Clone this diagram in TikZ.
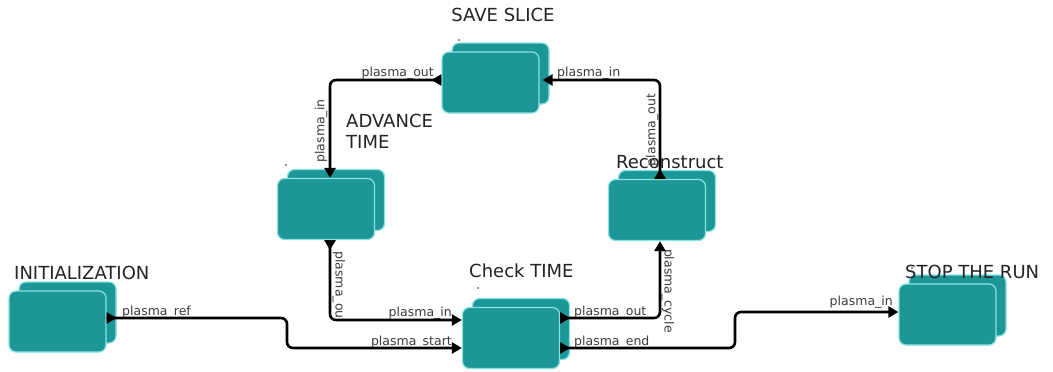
\documentclass[tikz,border=0pt]{standalone}
\usepackage{fontspec}
\setmainfont{DejaVu Sans}
\usetikzlibrary{arrows.meta,decorations.markings}
\definecolor{boxfill}{RGB}{28,150,150}
\definecolor{boxedge}{RGB}{140,225,225}
\definecolor{txt}{RGB}{35,35,35}
\definecolor{ptxt}{RGB}{60,60,60}
\begin{document}
\begin{tikzpicture}[x=1pt,y=-1pt,
  box/.style={draw=boxedge, line width=1.2pt, fill=boxfill, rounded corners=7pt,
    minimum width=97pt, minimum height=61pt, inner sep=0pt},
  title/.style={font=\fontsize{18}{21}\selectfont, text=txt, inner sep=0pt},
  plabel/.style={font=\fontsize{12.5}{14}\selectfont, text=ptxt, inner sep=0pt},
  conn/.style={draw=black, line width=2.6pt, rounded corners=6pt,
    -{Triangle[length=10pt,width=11pt]},
    postaction={decorate},
    decoration={markings, mark=at position 10pt with {\arrow{Triangle[length=10pt,width=11pt]}}}}
]
\useasboundingbox (0,0) rectangle (1053,372);
\fill[white] (0,0) rectangle (1053,372);

% boxes (back, then front)
\node[box] (initb) at (67.5,312.5) {};
\node[box] (init) at (57.5,321.5) {};
\node[box] (advb) at (336,200) {};
\node[box] (adv) at (326,209) {};
\node[box] (saveb) at (500.5,73.5) {};
\node[box] (save) at (490.5,82.5) {};
\node[box] (reconb) at (667,201) {};
\node[box] (recon) at (657,210) {};
\node[box] (checkb) at (521,329) {};
\node[box] (check) at (511,338) {};
\node[box] (stopb) at (957.5,305.5) {};
\node[box] (stop) at (947.5,314.5) {};

% tiny marks
\fill[txt] (459,40) circle (0.8);
\fill[txt] (286,165) circle (0.8);
\fill[txt] (478,288) circle (0.8);
\fill[txt] (912,268) circle (0.8);

% titles
\node[title] (tsave) at (503,15) {SAVE SLICE};
\node[title, anchor=west, align=left] (tadv) at (346,131.5) {ADVANCE\\TIME};
\node[title, anchor=west] (trecon) at (616,162) {Reconstruct};
\node[title, anchor=west] (tinit) at (14,273) {INITIALIZATION};
\node[title, anchor=west] (tcheck) at (469,271) {Check TIME};
\node[title, anchor=west] (tstop) at (905,272) {STOP THE RUN};

% port labels
\node[plabel, anchor=base east] (l1) at (434,76) {plasma\_out};
\node[plabel, anchor=base west] (l2) at (557,76) {plasma\_in};
\node[plabel, rotate=90] (l3) at (321,131) {plasma\_in};
\node[plabel, rotate=90] (l4) at (652,130) {plasma\_out};
\node[plabel, rotate=-90] (l5) at (339,285) {plasma\_ou};
\node[plabel, rotate=-90] (l6) at (668,291) {plasma\_cycle};
\node[plabel, anchor=base west] (l7) at (122,315) {plasma\_ref};
\node[plabel, anchor=base east] (l8) at (452,316) {plasma\_in};
\node[plabel, anchor=base east] (l9) at (452,345) {plasma\_start};
\node[plabel, anchor=base west] (l10) at (574,315) {plasma\_out};
\node[plabel, anchor=base west] (l11) at (574,345) {plasma\_end};
\node[plabel, anchor=base east] (l12) at (893,305) {plasma\_in};

% connectors
\draw[conn] ([yshift=3.5pt]init.east) -- (287,318) -- (287,348) -- ([yshift=-10pt]check.west);
\draw[conn] ([xshift=4pt]adv.south) -- (330,320) -- ([yshift=18pt]check.west);
\draw[conn] ([yshift=20pt]check.east) -- (660,318) -- ([xshift=3pt]recon.south);
\draw[conn] ([yshift=-10pt]check.east) -- (735,348) -- (735,312) -- ([yshift=2.5pt]stop.west);
\draw[conn] ([xshift=3pt]recon.north) -- (660,80) -- ([yshift=2.5pt,xshift=3pt]save.east);
\draw[conn] ([yshift=2.5pt]save.west) -- (330,80) -- ([xshift=4pt]adv.north);
\end{tikzpicture}
\end{document}
